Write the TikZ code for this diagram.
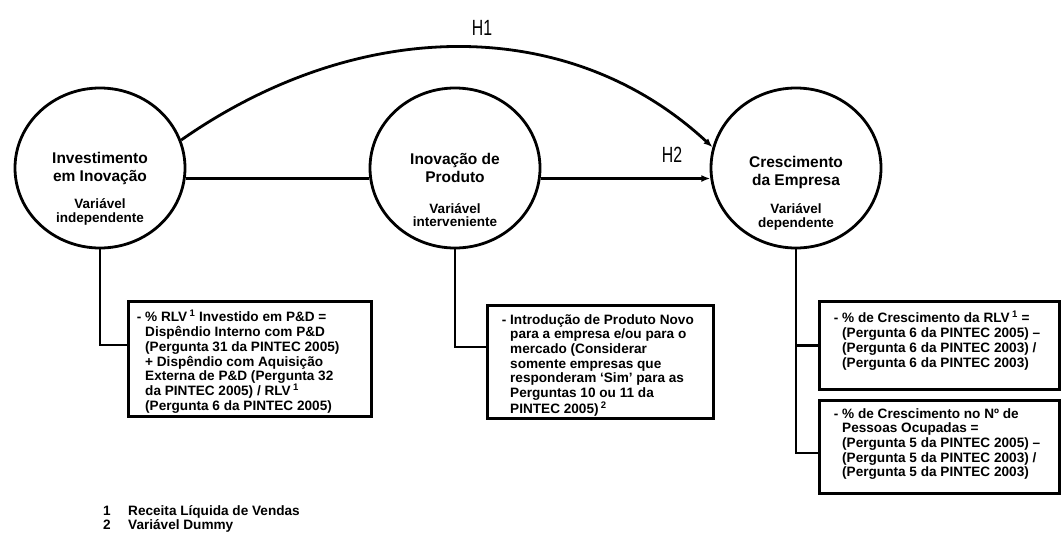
\documentclass[tikz,border=0pt]{standalone}
\usepackage{fontspec}
\setmainfont{Liberation Sans}
\newfontfamily\narrowfont[FakeStretch=0.72]{Liberation Sans}
\usetikzlibrary{shapes.geometric,arrows.meta}

\begin{document}
\begin{tikzpicture}[x=1pt,y=-1pt,
    var/.style={draw, ellipse, line width=2.8pt, minimum width=170pt, minimum height=160pt, inner sep=0pt},
    vartitle/.style={align=center, font=\bfseries\fontsize{15.5}{18}\selectfont},
    varrole/.style={align=center, font=\bfseries\fontsize{13.5}{13.5}\selectfont},
    mbox/.style={draw, line width=2.8pt, anchor=north west, inner sep=0pt},
    mtext/.style={align=left, anchor=north west, inner sep=0pt, font=\bfseries\fontsize{13.6}{14.7}\selectfont},
    hyp/.style={font=\narrowfont\fontsize{22}{22}\selectfont},
    link/.style={line width=2.8pt},
    tip/.style={-{Latex[length=9pt,width=7pt]}}
  ]

    % Fix the frame of the picture
    \useasboundingbox (0,0) rectangle (1064,533);

    % Draw the three variables
    \node[var] (inv) at (100,168) {};
    \node[var] (inn) at (455,168) {};
    \node[var] (cre) at (796,168) {};

    % Names of the variables and their roles
    \node[vartitle] (inv-name) at (100,168) {Investimento\\em Inovação};
    \node[varrole] (inv-role) at (100,212) {Variável\\independente};
    \node[vartitle] (inn-name) at (455,168) {Inovação de\\Produto};
    \node[varrole] (inn-role) at (455,215) {Variável\\interveniente};
    \node[vartitle] (cre-name) at (796,172) {Crescimento\\da Empresa};
    \node[varrole] (cre-role) at (796,217) {Variável\\dependente};

    % Hypotheses H1 (direct) and H2 (through product innovation)
    \draw[link, tip] (inv.19) .. controls (360,15) and (570,15) .. (cre.166);
    \draw[link] (inv.-7) -- (inn.187);
    \draw[link, tip] (inn.-7) -- (cre.187);
    \node[hyp] (h1) at (482,28) {H1};
    \node[hyp] (h2) at (672,155) {H2};

    % Boxes with the measures of each variable
    \node[mbox, minimum width=243pt, minimum height=115pt] (box1) at (127,300) {};
    \node[mbox, minimum width=226pt, minimum height=113pt] (box2) at (486,304) {};
    \node[mbox, minimum width=240pt, minimum height=88pt] (box3) at (818,300) {};
    \node[mbox, minimum width=240pt, minimum height=93pt] (box4) at (818,399) {};

    \node[mtext] (box1-txt) at ([xshift=18pt,yshift=-10pt]box1.north west)
      {\llap{-\ }\% RLV\,\textsuperscript{1} Investido em P\&D =\\
       Dispêndio Interno com P\&D\\
       (Pergunta 31 da PINTEC 2005)\\
       + Dispêndio com Aquisição\\
       Externa de P\&D (Pergunta 32\\
       da PINTEC 2005) / RLV\,\textsuperscript{1}\\
       (Pergunta 6 da PINTEC 2005)};
    \node[mtext] (box2-txt) at ([xshift=24pt,yshift=-10pt]box2.north west)
      {\llap{-\ }Introdução de Produto Novo\\
       para a empresa e/ou para o\\
       mercado (Considerar\\
       somente empresas que\\
       responderam ‘Sim’ para as\\
       Perguntas 10 ou 11 da\\
       PINTEC 2005)\,\textsuperscript{2}};
    \node[mtext] (box3-txt) at ([xshift=24pt,yshift=-11pt]box3.north west)
      {\llap{-\ }\% de Crescimento da RLV\,\textsuperscript{1} =\\
       (Pergunta 6 da PINTEC 2005) –\\
       (Pergunta 6 da PINTEC 2003) /\\
       (Pergunta 6 da PINTEC 2003)};
    \node[mtext] (box4-txt) at ([xshift=24pt,yshift=-9pt]box4.north west)
      {\llap{-\ }\% de Crescimento no Nº de\\
       Pessoas Ocupadas =\\
       (Pergunta 5 da PINTEC 2005) –\\
       (Pergunta 5 da PINTEC 2003) /\\
       (Pergunta 5 da PINTEC 2003)};

    % Connect each variable to its measures
    \draw[link] (inv.south) |- ([yshift=14pt]box1.west);
    \draw[link] (inn.south) |- ([yshift=15pt]box2.west);
    \draw[link] (cre.south) |- ([yshift=-6pt]box4.west);
    \draw[link] (box3.west) -- (box3.west -| cre.south);

    % Notes below the diagram
    \node[mtext, anchor=base west] (note1) at (103,515) {\makebox[25pt][l]{1}Receita Líquida de Vendas};
    \node[mtext, anchor=base west] (note2) at (103,529) {\makebox[25pt][l]{2}Variável Dummy};

\end{tikzpicture}
\end{document}
